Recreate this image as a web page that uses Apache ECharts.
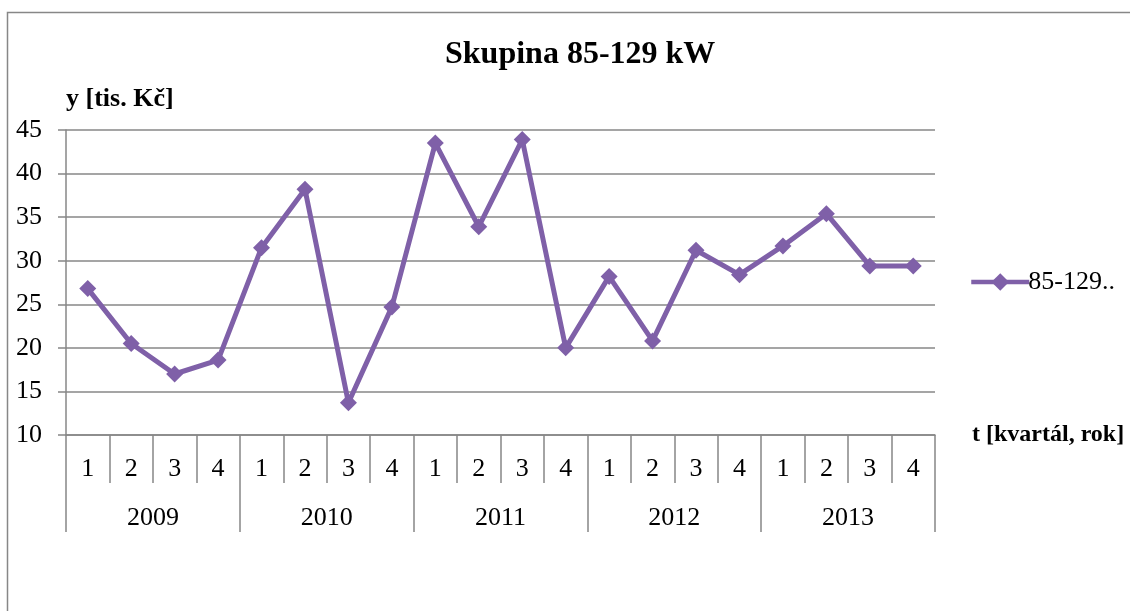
<!DOCTYPE html>
<html>
<head>
<meta charset="utf-8">
<script src="https://cdn.jsdelivr.net/npm/echarts@6/dist/echarts.min.js"></script>
<style>
  html, body { margin: 0; padding: 0; background: #fff; }
  #chart { width: 1130px; height: 611px; }
</style>
</head>
<body>
<div id="chart"></div>
<script>
// data
const quarters = ['1', '2', '3', '4', '1', '2', '3', '4', '1', '2', '3', '4', '1', '2', '3', '4', '1', '2', '3', '4']
const years = ['2009', '2010', '2011', '2012', '2013']
const values = [26.8, 20.5, 17.0, 18.6, 31.5, 38.2, 13.7, 24.7, 43.5, 33.9, 43.9, 20.0, 28.2, 20.8, 31.2, 28.4, 31.7, 35.4, 29.4, 29.4]
const seriesName = '85-129..'

const serif = '"Liberation Serif", "Times New Roman", serif'
const gray = '#878787'
const purple = '#7f60a8'

const chart = echarts.init(document.getElementById('chart'))

const option = {
  animation: false,
  backgroundColor: '#fff',
  textStyle: { fontFamily: serif, color: '#000' },
  title: {
    text: 'Skupina 85-129 kW',
    left: 440,
    top: 34,
    textStyle: { fontFamily: serif, fontSize: 32, fontWeight: 'bold', color: '#000' }
  },
  graphic: [
    {
      type: 'rect',
      shape: { x: 7.5, y: 12.5, width: 1140, height: 700 },
      style: { fill: 'none', stroke: gray, lineWidth: 1.5 },
      silent: true
    }
  ],
  legend: {
    left: 964,
    top: 264,
    itemWidth: 58,
    itemHeight: 22,
    itemGap: 0,
    lineStyle: { width: 4.5 },
    textStyle: { fontFamily: serif, fontSize: 26, color: '#000', padding: [0, 0, 0, -6] },
    data: [seriesName]
  },
  grid: {
    left: 66,
    right: 195,
    top: 130,
    bottom: 176,
    containLabel: false
  },
  xAxis: [
    {
      type: 'category',
      data: quarters,
      boundaryGap: true,
      name: 't [kvartál, rok]',
      nameLocation: 'end',
      nameGap: 37,
      nameTextStyle: { fontFamily: serif, fontSize: 24, fontWeight: 'bold', color: '#000', verticalAlign: 'middle' },
      axisLine: { show: true, lineStyle: { color: gray, width: 1.5 } },
      axisTick: { show: true, length: 48, interval: 0, lineStyle: { color: gray, width: 1.5 } },
      axisLabel: { interval: 0, margin: 21, fontFamily: serif, fontSize: 26, color: '#000' },
      splitLine: { show: false }
    },
    {
      type: 'category',
      data: years,
      position: 'bottom',
      boundaryGap: true,
      axisLine: { show: false },
      axisTick: { show: true, length: 97, interval: 0, lineStyle: { color: gray, width: 1.5 } },
      axisLabel: { interval: 0, margin: 70, fontFamily: serif, fontSize: 26, color: '#000' },
      splitLine: { show: false }
    }
  ],
  yAxis: {
    type: 'value',
    min: 10,
    max: 45,
    interval: 5,
    name: 'y [tis. Kč]',
    nameLocation: 'end',
    nameGap: 18,
    nameTextStyle: { fontFamily: serif, fontSize: 26, fontWeight: 'bold', color: '#000', align: 'left' },
    axisLine: { show: true, lineStyle: { color: gray, width: 1.5 } },
    axisTick: { show: true, length: 8, lineStyle: { color: gray, width: 1.5 } },
    axisLabel: { margin: 24, fontFamily: serif, fontSize: 26, color: '#000' },
    splitLine: { show: true, lineStyle: { color: gray, width: 1.5 } }
  },
  series: [
    {
      name: seriesName,
      type: 'line',
      xAxisIndex: 0,
      data: values,
      symbol: 'diamond',
      symbolSize: 17,
      lineStyle: { color: purple, width: 5 },
      itemStyle: { color: purple },
      emphasis: { disabled: true }
    }
  ]
}

chart.setOption(option)
window.addEventListener('resize', () => chart.resize())
</script>
</body>
</html>
